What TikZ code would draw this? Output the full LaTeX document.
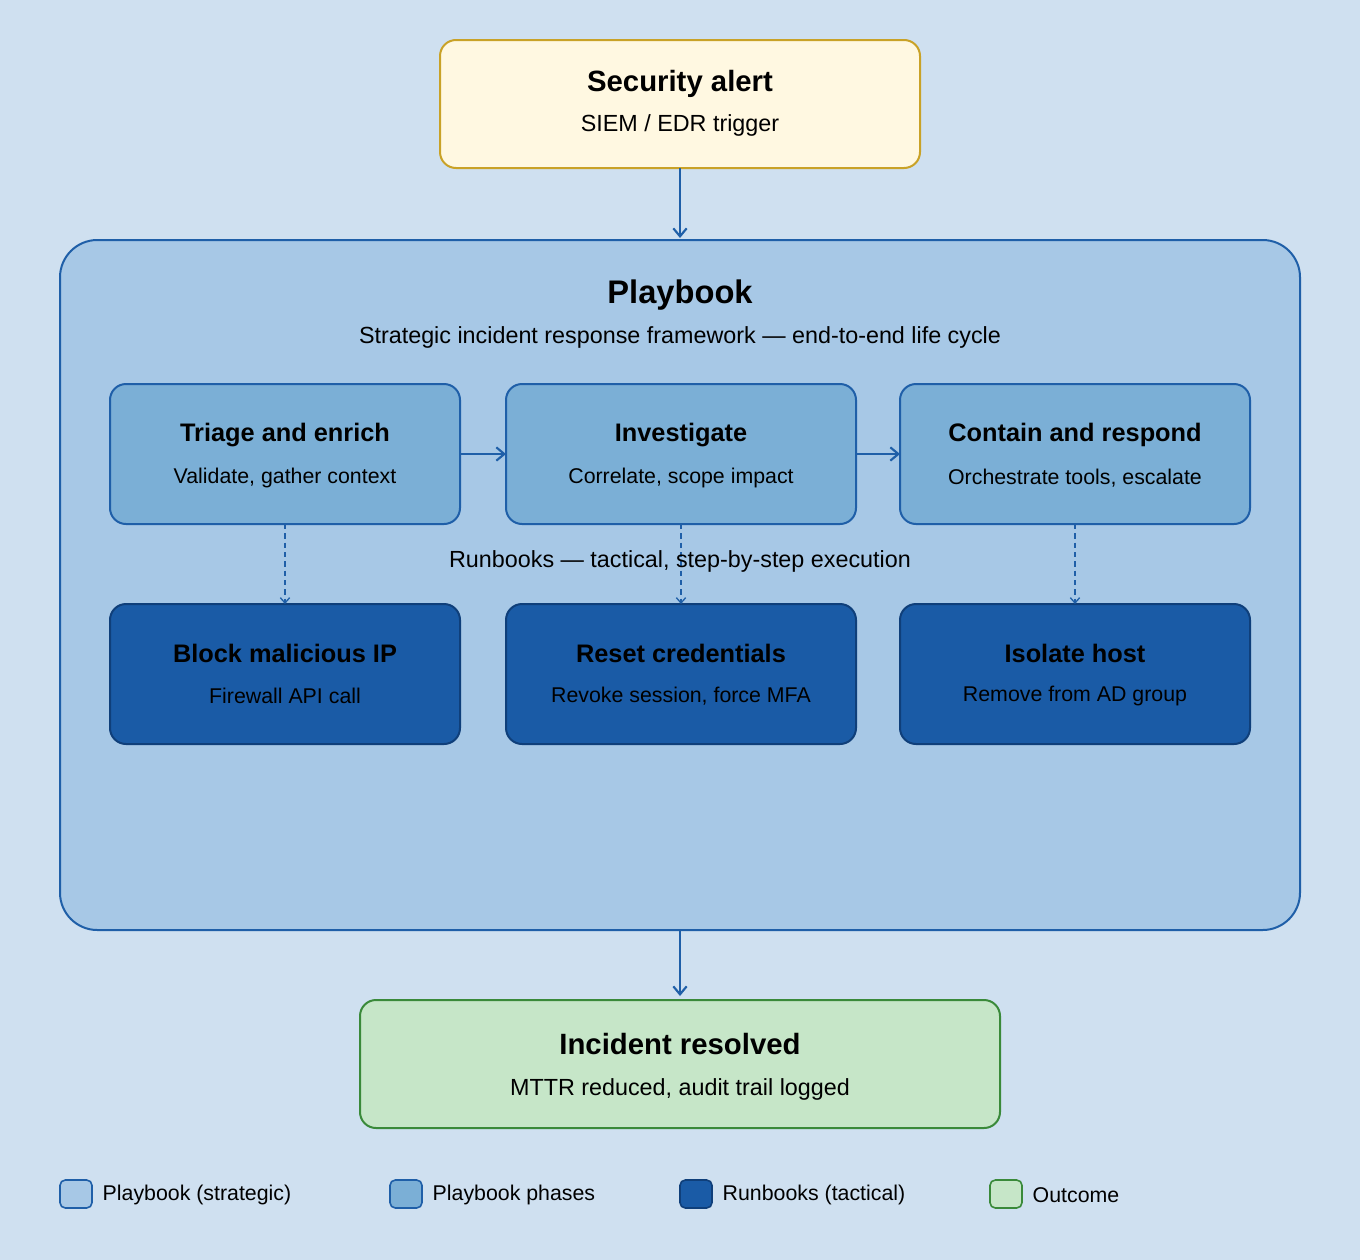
\documentclass[tikz,border=0pt]{standalone}
\usepackage{fontspec}
\setmainfont{Liberation Sans}
\usetikzlibrary{arrows.meta}
\definecolor{bg}{HTML}{CFE0F0}
\definecolor{pb}{HTML}{A7C8E6}
\definecolor{pbd}{HTML}{1F5FA8}
\definecolor{ph}{HTML}{7BAFD6}
\definecolor{rb}{HTML}{1A5BA6}
\definecolor{rbd}{HTML}{0F3F7A}
\definecolor{al}{HTML}{FFF8E1}
\definecolor{ald}{HTML}{C9A227}
\definecolor{oc}{HTML}{C6E6C8}
\definecolor{ocd}{HTML}{3A8A3A}
\begin{document}
\begin{tikzpicture}[x=0.75pt,y=-0.75pt,
 box/.style={rounded corners=12pt,line width=1.5pt},
 arr/.style={draw=pbd,line width=1.6pt,-{Straight Barb[length=6pt,width=10pt]}},
 darr/.style={draw=pbd,line width=1pt,dash pattern=on 4pt off 3pt,-{Straight Barb[length=4pt,width=7pt]}},
 ttl/.style={font=\bfseries\fontsize{19}{21}\selectfont},
 sub/.style={font=\fontsize{16}{18}\selectfont},
 lg/.style={font=\fontsize{16}{18}\selectfont,anchor=west}]
\fill[bg] (0,0) rectangle (1360,1260);
\useasboundingbox (0,0) rectangle (1360,1260);
% alert
\draw[box,fill=al,draw=ald] (440,40) rectangle (920,168);
\node[font=\bfseries\fontsize{22}{24}\selectfont] (alt) at (680,84) {Security alert};
\node[font=\fontsize{17.5}{20}\selectfont] (als) at (680,125) {SIEM / EDR trigger};
\coordinate (alb) at (680,168);
% playbook
\draw[box,rounded corners=28pt,fill=pb,draw=pbd] (60,240) rectangle (1300,930);
\coordinate (pbt) at (680,238);
\coordinate (pbb) at (680,930);
\node[font=\bfseries\fontsize{24.5}{27}\selectfont] (pbtitle) at (680,295) {Playbook};
\node[font=\fontsize{17.5}{20}\selectfont] (pbsub) at (680,337) {Strategic incident response framework — end-to-end life cycle};
% phases
\foreach \n/\x/\t/\s in {p1/110/Triage and enrich/{Validate, gather context},p2/506/Investigate/{Correlate, scope impact},p3/900/Contain and respond/{Orchestrate tools, escalate}}{
 \draw[box,fill=ph,draw=pbd] (\x,384) rectangle (\x+350,524);
 \coordinate (\n w) at (\x,454);
 \coordinate (\n e) at (\x+350,454);
 \coordinate (\n s) at (\x+175,524);
 \node[ttl] (\n t) at (\x+175,435) {\t};
 \node[sub] (\n d) at (\x+175,478) {\s};
}
\foreach \n/\x/\t/\s in {r1/110/Block malicious IP/Firewall API call,r2/506/Reset credentials/{Revoke session, force MFA},r3/900/Isolate host/Remove from AD group}{
 \draw[box,fill=rb,draw=rbd] (\x,604) rectangle (\x+350,744);
 \coordinate (\n n) at (\x+175,604);
 \node[ttl] (\n t) at (\x+175,653) {\t};
 \node[sub] (\n d) at (\x+175,696) {\s};
}
\draw[arr] (p1e) -- (p2w);
\draw[arr] (p2e) -- (p3w);
\draw[darr] (p1s) -- (r1n);
\draw[darr] (p2s) -- (r2n);
\draw[darr] (p3s) -- (r3n);
\node[font=\fontsize{17.5}{20}\selectfont] (rbl) at (680,561) {Runbooks — tactical, step-by-step execution};
% outcome
\draw[box,fill=oc,draw=ocd] (360,1000) rectangle (1000,1128);
\coordinate (oct) at (680,996);
\node[font=\bfseries\fontsize{22}{24}\selectfont] (oc1) at (680,1044) {Incident resolved};
\node[font=\fontsize{17.5}{20}\selectfont] (oc2) at (680,1089) {MTTR reduced, audit trail logged};
\draw[arr] (alb) -- (pbt);
\draw[arr] (pbb) -- (oct);
% legend
\foreach \n/\x/\f/\d/\t in {l1/60/pb/pbd/Playbook (strategic),l2/390/ph/pbd/Playbook phases,l3/680/rb/rbd/Runbooks (tactical),l4/990/oc/ocd/Outcome}{
 \draw[fill=\f,draw=\d,line width=1.2pt,rounded corners=4pt] (\x,1180) rectangle (\x+32,1208);
 \node[lg] (\n) at (\x+38,1195) {\t};
}
\end{tikzpicture}
\end{document}
